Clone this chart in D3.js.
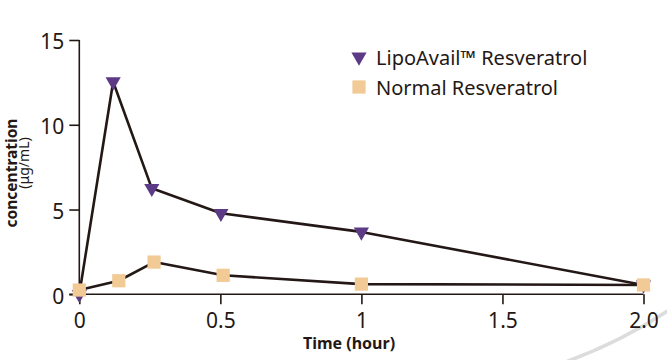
<!DOCTYPE html>
<html>
<head>
<meta charset="utf-8">
<script src="https://cdn.jsdelivr.net/npm/d3@7"></script>
<style>
html,body{margin:0;padding:0;background:#fff;}
svg{display:block;}
</style>
</head>
<body>
<svg id="chart" width="667" height="360"></svg>
<script>
const seriesNames = ["LipoAvail™ Resveratrol", "Normal Resveratrol"];
const timesLipo = [0, 0.12, 0.257, 0.502, 1, 2];
const valuesLipo = [0, 12.54, 6.25, 4.78, 3.68, 0.55];
const timesNormal = [0, 0.14, 0.265, 0.51, 1, 2];
const valuesNormal = [0.25, 0.8, 1.9, 1.12, 0.6, 0.55];
const xTicks = [0, 0.5, 1, 1.5, 2];
const xTickLabels = ["0", "0.5", "1", "1.5", "2.0"];
const yTicks = [0, 5, 10, 15];

const ink = "#231815";
const purple = "#5c3a86";
const tan = "#f2ca96";
const font = "'Noto Sans', sans-serif";

const svg = d3.select("#chart");
const x = d3.scaleLinear().domain([0, 2]).range([79.3, 643.5]);
const y = d3.scaleLinear().domain([0, 15]).range([294.3, 40]);

// decorative arc bottom-right
svg.append("path")
  .attr("d", "M535,372 Q610,350 675,306")
  .attr("fill", "none").attr("stroke", "#dcdcdc").attr("stroke-width", 3.5);

// axes
const xAxis = svg.append("g").attr("transform", `translate(0,${y(0)})`)
  .call(d3.axisBottom(x).tickValues(xTicks).tickFormat((d, i) => xTickLabels[i]).tickSize(10).tickSizeOuter(0).tickPadding(6));
const yAxis = svg.append("g").attr("transform", `translate(${x(0)},0)`)
  .call(d3.axisLeft(y).tickValues(yTicks).tickSize(10).tickSizeOuter(0).tickPadding(5));
[xAxis, yAxis].forEach(g => {
  g.select(".domain").remove();
  g.selectAll("line").attr("stroke", ink).attr("stroke-width", 1.6);
  g.selectAll("text").attr("fill", ink).style("font-family", font).style("font-size", "21px");
});
xAxis.selectAll("text").attr("dy", "0.85em");
yAxis.selectAll("text").attr("dy", "0.42em");
svg.append("line").attr("x1", x(0) - 10).attr("x2", x(2)).attr("y1", y(0)).attr("y2", y(0))
  .attr("stroke", ink).attr("stroke-width", 1.6);
svg.append("line").attr("x1", x(0)).attr("x2", x(0)).attr("y1", y(0)).attr("y2", y(15))
  .attr("stroke", ink).attr("stroke-width", 1.6);

// axis titles
svg.append("text").attr("x", 349).attr("y", 349).attr("text-anchor", "middle")
  .style("font-family", font).style("font-weight", "700").style("font-size", "16px").attr("fill", ink)
  .text("Time (hour)");
svg.append("text").attr("transform", "translate(17,173) rotate(-90)").attr("text-anchor", "middle")
  .style("font-family", font).style("font-weight", "700").style("font-size", "15.5px").attr("fill", ink)
  .text("concentration");
svg.append("text").attr("transform", "translate(29,163) rotate(-90)").attr("text-anchor", "middle")
  .style("font-family", font).style("font-size", "14px").attr("fill", ink)
  .text("(μg/mL)");

// lines
const line = d3.line().x(d => x(d.t)).y(d => y(d.v));
const lipo = timesLipo.map((t, i) => ({t, v: valuesLipo[i], s: 0}));
const normal = timesNormal.map((t, i) => ({t, v: valuesNormal[i], s: 1}));
[normal, lipo].forEach(data => {
  svg.append("path").datum(data).attr("d", line)
    .attr("fill", "none").attr("stroke", ink).attr("stroke-width", 2.6).attr("stroke-linejoin", "round");
});

// markers (lower values drawn first)
const tri = d3.symbol().type(d3.symbolTriangle).size(100);
const sq = d3.symbol().type(d3.symbolSquare).size(175);
const pts = lipo.concat(normal).sort((a, b) => a.v - b.v);
svg.append("g").selectAll("path").data(pts).join("path")
  .attr("d", d => d.s === 0 ? tri() : sq())
  .attr("transform", d => `translate(${x(d.t)},${y(d.v)})` + (d.s === 0 ? " rotate(180)" : ""))
  .attr("fill", d => d.s === 0 ? purple : tan);

// legend
const leg = svg.append("g");
const legY = [57, 87];
seriesNames.forEach((name, i) => {
  leg.append("path").attr("d", i === 0 ? tri() : sq())
    .attr("transform", `translate(359,${legY[i]})` + (i === 0 ? " rotate(180)" : ""))
    .attr("fill", i === 0 ? purple : tan);
  leg.append("text").attr("x", 376).attr("y", legY[i] + 8)
    .style("font-family", font).style("font-size", "20px").attr("fill", ink).text(name);
});
</script>
</body>
</html>
